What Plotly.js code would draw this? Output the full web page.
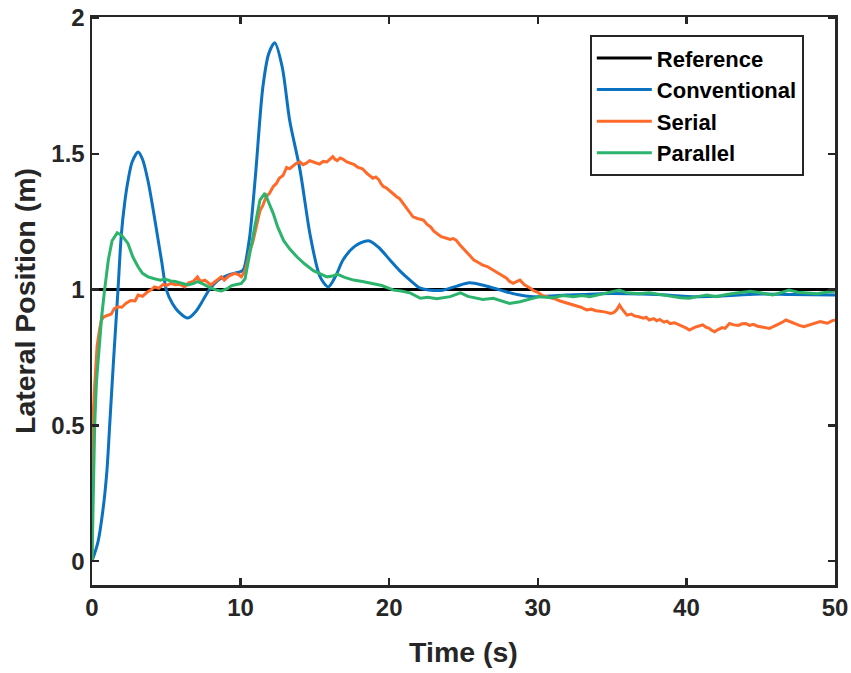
<!DOCTYPE html>
<html>
<head>
<meta charset="utf-8">
<script src="https://cdn.plot.ly/plotly-3.0.1.min.js"></script>
<style>html,body{margin:0;padding:0;background:#fff;}#chart{width:851px;height:673px;}</style>
</head>
<body>
<div id="chart"></div>
<script>
// Reference
const refT = [0, 50];
const refY = [1, 1];

// Conventional
const convT = [0,0.4,0.74,1.0,1.19,1.45,1.75,1.97,2.2,2.42,2.7,3.1,3.4,3.77,4.1,4.4,4.7,5.0,5.4,5.8,6.46,7.0,7.35,7.9,8.5,9.15,9.6,10.0,10.2,10.6,11.0,11.5,11.9,12.3,12.8,13.3,14.0,14.7,15.35,15.9,16.4,16.9,17.7,18.6,19.3,20.05,20.7,21.4,22.1,22.8,23.6,24.5,25.4,26.4,27.5,28.6,29.7,30.8,31.9,33.0,34.2,36,38,40.7,43,45,47,50];
const convY = [0,0.07,0.19,0.33,0.5,0.74,1.0,1.2,1.32,1.40,1.47,1.507,1.48,1.40,1.30,1.20,1.10,1.0,0.95,0.92,0.895,0.92,0.95,1.0,1.035,1.053,1.06,1.066,1.075,1.19,1.42,1.747,1.87,1.909,1.82,1.624,1.44,1.195,1.047,1.01,1.05,1.11,1.16,1.18,1.155,1.109,1.07,1.035,1.005,0.998,0.998,1.012,1.025,1.015,0.998,0.982,0.974,0.976,0.98,0.982,0.985,0.985,0.982,0.974,0.978,0.984,0.982,0.98];

// Serial
const serT = [0,0.02,0.05,0.15,0.34,0.5,0.63,0.8,1.08,1.3,1.5,1.75,2.0,2.3,2.6,2.9,3.1,3.4,3.7,4.0,4.2,4.5,4.8,5.0,5.3,5.6,5.9,6.24,6.5,6.8,7.1,7.3,7.6,8.0,8.3,8.5,8.7,8.9,9.2,9.6,9.85,10.05,
  10.3,10.5,10.63,10.8,11.0,11.15,11.3,11.5,11.7,11.95,12.2,12.4,12.6,12.85,13.1,13.3,13.5,13.75,14.0,14.2,14.4,14.65,14.9,15.1,15.3,15.55,15.8,16.0,16.2,16.35,16.5,16.7,16.9,17.15,17.4,17.65,17.9,18.2,18.5,18.7,18.9,19.1,19.3,19.45,19.6,19.8,20.0,20.25,20.5,20.7,20.9,21.15,21.4,21.6,21.9,22.1,22.3,22.55,22.8,23.0,23.2,23.5,23.8,24.1,24.3,24.5,24.75,25.0,25.3,25.5,25.7,26.0,26.3,26.6,26.8,27.0,27.3,27.6,27.9,28.1,28.35,28.6,28.8,29.1,29.3,29.5,29.75,30.0,30.3,30.6,30.9,31.2,31.5,31.7,31.95,32.3,32.6,32.9,33.1,33.3,33.6,33.9,34.2,34.5,34.9,35.1,35.3,35.5,35.65,35.8,36.0,36.3,36.5,36.8,37.1,37.3,37.5,37.8,38.0,38.2,38.5,38.7,38.9,39.2,39.5,39.8,40.0,40.2,40.4,40.6,40.85,41.1,41.3,41.5,41.7,41.9,42.1,42.4,42.6,42.9,43.2,43.5,43.75,44.0,44.25,44.5,44.8,45.1,45.35,45.6,45.85,46.1,46.4,46.7,46.95,47.3,47.6,47.9,48.2,48.5,48.75,49.0,49.25,49.5,49.75,50];
const serY = [0,0.25,0.5,0.62,0.79,0.85,0.888,0.9,0.906,0.91,0.93,0.937,0.935,0.95,0.96,0.958,0.98,0.975,0.99,1.0,1.01,1.005,1.02,1.015,1.023,1.018,1.02,1.01,1.025,1.03,1.047,1.03,1.035,1.017,1.03,1.04,1.047,1.035,1.05,1.06,1.055,1.047,
  1.07,1.11,1.145,1.17,1.22,1.25,1.29,1.31,1.34,1.355,1.38,1.39,1.41,1.42,1.45,1.445,1.455,1.465,1.47,1.46,1.465,1.475,1.47,1.465,1.462,1.472,1.47,1.48,1.49,1.48,1.475,1.485,1.48,1.47,1.465,1.46,1.45,1.445,1.428,1.42,1.41,1.415,1.405,1.39,1.38,1.375,1.365,1.355,1.342,1.335,1.32,1.3,1.28,1.268,1.262,1.26,1.256,1.24,1.23,1.215,1.207,1.195,1.19,1.185,1.188,1.182,1.165,1.15,1.13,1.12,1.109,1.1,1.09,1.085,1.078,1.072,1.06,1.05,1.042,1.03,1.023,1.03,1.035,1.018,1.012,1.005,0.995,0.99,0.978,0.974,0.97,0.965,0.958,0.955,0.949,0.944,0.94,0.935,0.93,0.925,0.928,0.922,0.92,0.918,0.912,0.915,0.925,0.943,0.93,0.92,0.906,0.91,0.903,0.9,0.895,0.898,0.888,0.893,0.885,0.89,0.88,0.884,0.875,0.878,0.87,0.865,0.858,0.851,0.857,0.862,0.866,0.87,0.862,0.858,0.85,0.845,0.852,0.86,0.857,0.875,0.87,0.868,0.874,0.875,0.868,0.872,0.865,0.862,0.86,0.857,0.864,0.87,0.878,0.888,0.882,0.875,0.868,0.863,0.868,0.872,0.878,0.882,0.879,0.876,0.884,0.888];

// Parallel
const parT = [0,0.08,0.18,0.3,0.47,0.65,0.85,1.1,1.35,1.7,2.0,2.42,2.75,3.1,3.4,3.77,4.2,4.6,4.9,5.3,5.6,6.0,6.46,6.8,7.1,7.5,8.0,8.4,8.7,9.1,9.4,9.8,10.05,10.3,10.63,10.95,11.3,11.64,11.9,12.2,12.5,12.9,13.3,13.8,14.3,14.9,15.3,15.8,16.2,16.5,17.0,17.6,18.2,18.9,19.5,20.3,20.8,21.4,22.1,22.6,23.2,24.1,24.8,25.3,26.3,27.0,27.6,28.1,28.8,29.5,30.1,31.0,31.7,32.4,33.0,33.5,34.2,35.0,35.5,36.0,36.8,37.5,38.3,39.0,39.6,40.2,40.8,41.4,42.0,42.7,43.5,44.3,45.0,45.8,46.4,46.9,47.5,48.2,48.8,49.4,50];
const parY = [0,0.22,0.5,0.66,0.79,0.9,1.0,1.11,1.18,1.209,1.2,1.17,1.12,1.084,1.06,1.047,1.04,1.035,1.039,1.032,1.03,1.025,1.017,1.022,1.029,1.02,1.005,0.998,0.995,1.003,1.015,1.02,1.023,1.04,1.13,1.23,1.33,1.355,1.32,1.28,1.23,1.18,1.15,1.12,1.095,1.07,1.06,1.047,1.05,1.057,1.045,1.035,1.03,1.023,1.015,0.998,0.995,0.988,0.968,0.972,0.966,0.974,0.988,0.975,0.964,0.968,0.958,0.949,0.955,0.965,0.974,0.97,0.978,0.974,0.978,0.974,0.982,0.99,0.998,0.988,0.985,0.988,0.98,0.975,0.97,0.968,0.975,0.98,0.974,0.982,0.988,0.994,0.988,0.98,0.99,0.998,0.99,0.988,0.985,0.99,0.994];

const seriesNames = ['Reference', 'Conventional', 'Serial', 'Parallel'];
const colors = ['#000000', '#0a72c0', '#ff6a2a', '#2cb36c'];

const xTicks = [0, 10, 20, 30, 40, 50];
const yTicks = [0, 0.5, 1, 1.5, 2];
const yTickText = ['0', '0.5', '1', '1.5', '2'];

const data = [
  {x: refT, y: refY, name: seriesNames[0], mode: 'lines', line: {color: colors[0], width: 3}},
  {x: convT, y: convY, name: seriesNames[1], mode: 'lines', line: {color: colors[1], width: 3, shape: 'spline', smoothing: 0.8}},
  {x: serT, y: serY, name: seriesNames[2], mode: 'lines', line: {color: colors[2], width: 3}},
  {x: parT, y: parY, name: seriesNames[3], mode: 'lines', line: {color: colors[3], width: 3}}
];

const axisFont = {family: 'Liberation Sans, Arial, sans-serif', size: 24, color: '#262626', weight: 'bold'};
const titleFont = {family: 'Liberation Sans, Arial, sans-serif', size: 28.5, color: '#262626', weight: 'bold'};

const layout = {
  width: 851, height: 673,
  margin: {l: 92, r: 16, t: 17, b: 88, pad: 0},
  paper_bgcolor: '#ffffff', plot_bgcolor: '#ffffff',
  showlegend: true,
  legend: {
    x: 0.670, y: 0.968, xanchor: 'left', yanchor: 'top',
    bgcolor: '#ffffff', bordercolor: '#262626', borderwidth: 2,
    font: {family: 'Liberation Sans, Arial, sans-serif', size: 22, color: '#000000', weight: 'bold'},
    itemwidth: 55
  },
  xaxis: {
    range: [0, 50], tickvals: xTicks, ticktext: xTicks.map(String),
    ticks: 'inside', ticklen: 7, tickwidth: 2.5, tickcolor: '#262626',
    showline: true, linecolor: '#262626', linewidth: 2.5, mirror: 'ticks',
    showgrid: false, zeroline: false,
    tickfont: axisFont,
    title: {text: 'Time (s)', font: titleFont, standoff: 22}
  },
  yaxis: {
    range: [-0.088, 2.004], tickvals: yTicks, ticktext: yTickText,
    ticks: 'inside', ticklen: 7, tickwidth: 2.5, tickcolor: '#262626',
    showline: true, linecolor: '#262626', linewidth: 2.5, mirror: 'ticks',
    showgrid: false, zeroline: false,
    tickfont: axisFont,
    title: {text: 'Lateral Position (m)', font: titleFont, standoff: 8}
  }
};

Plotly.newPlot('chart', data, layout, {displayModeBar: false, staticPlot: true});
</script>
</body>
</html>
